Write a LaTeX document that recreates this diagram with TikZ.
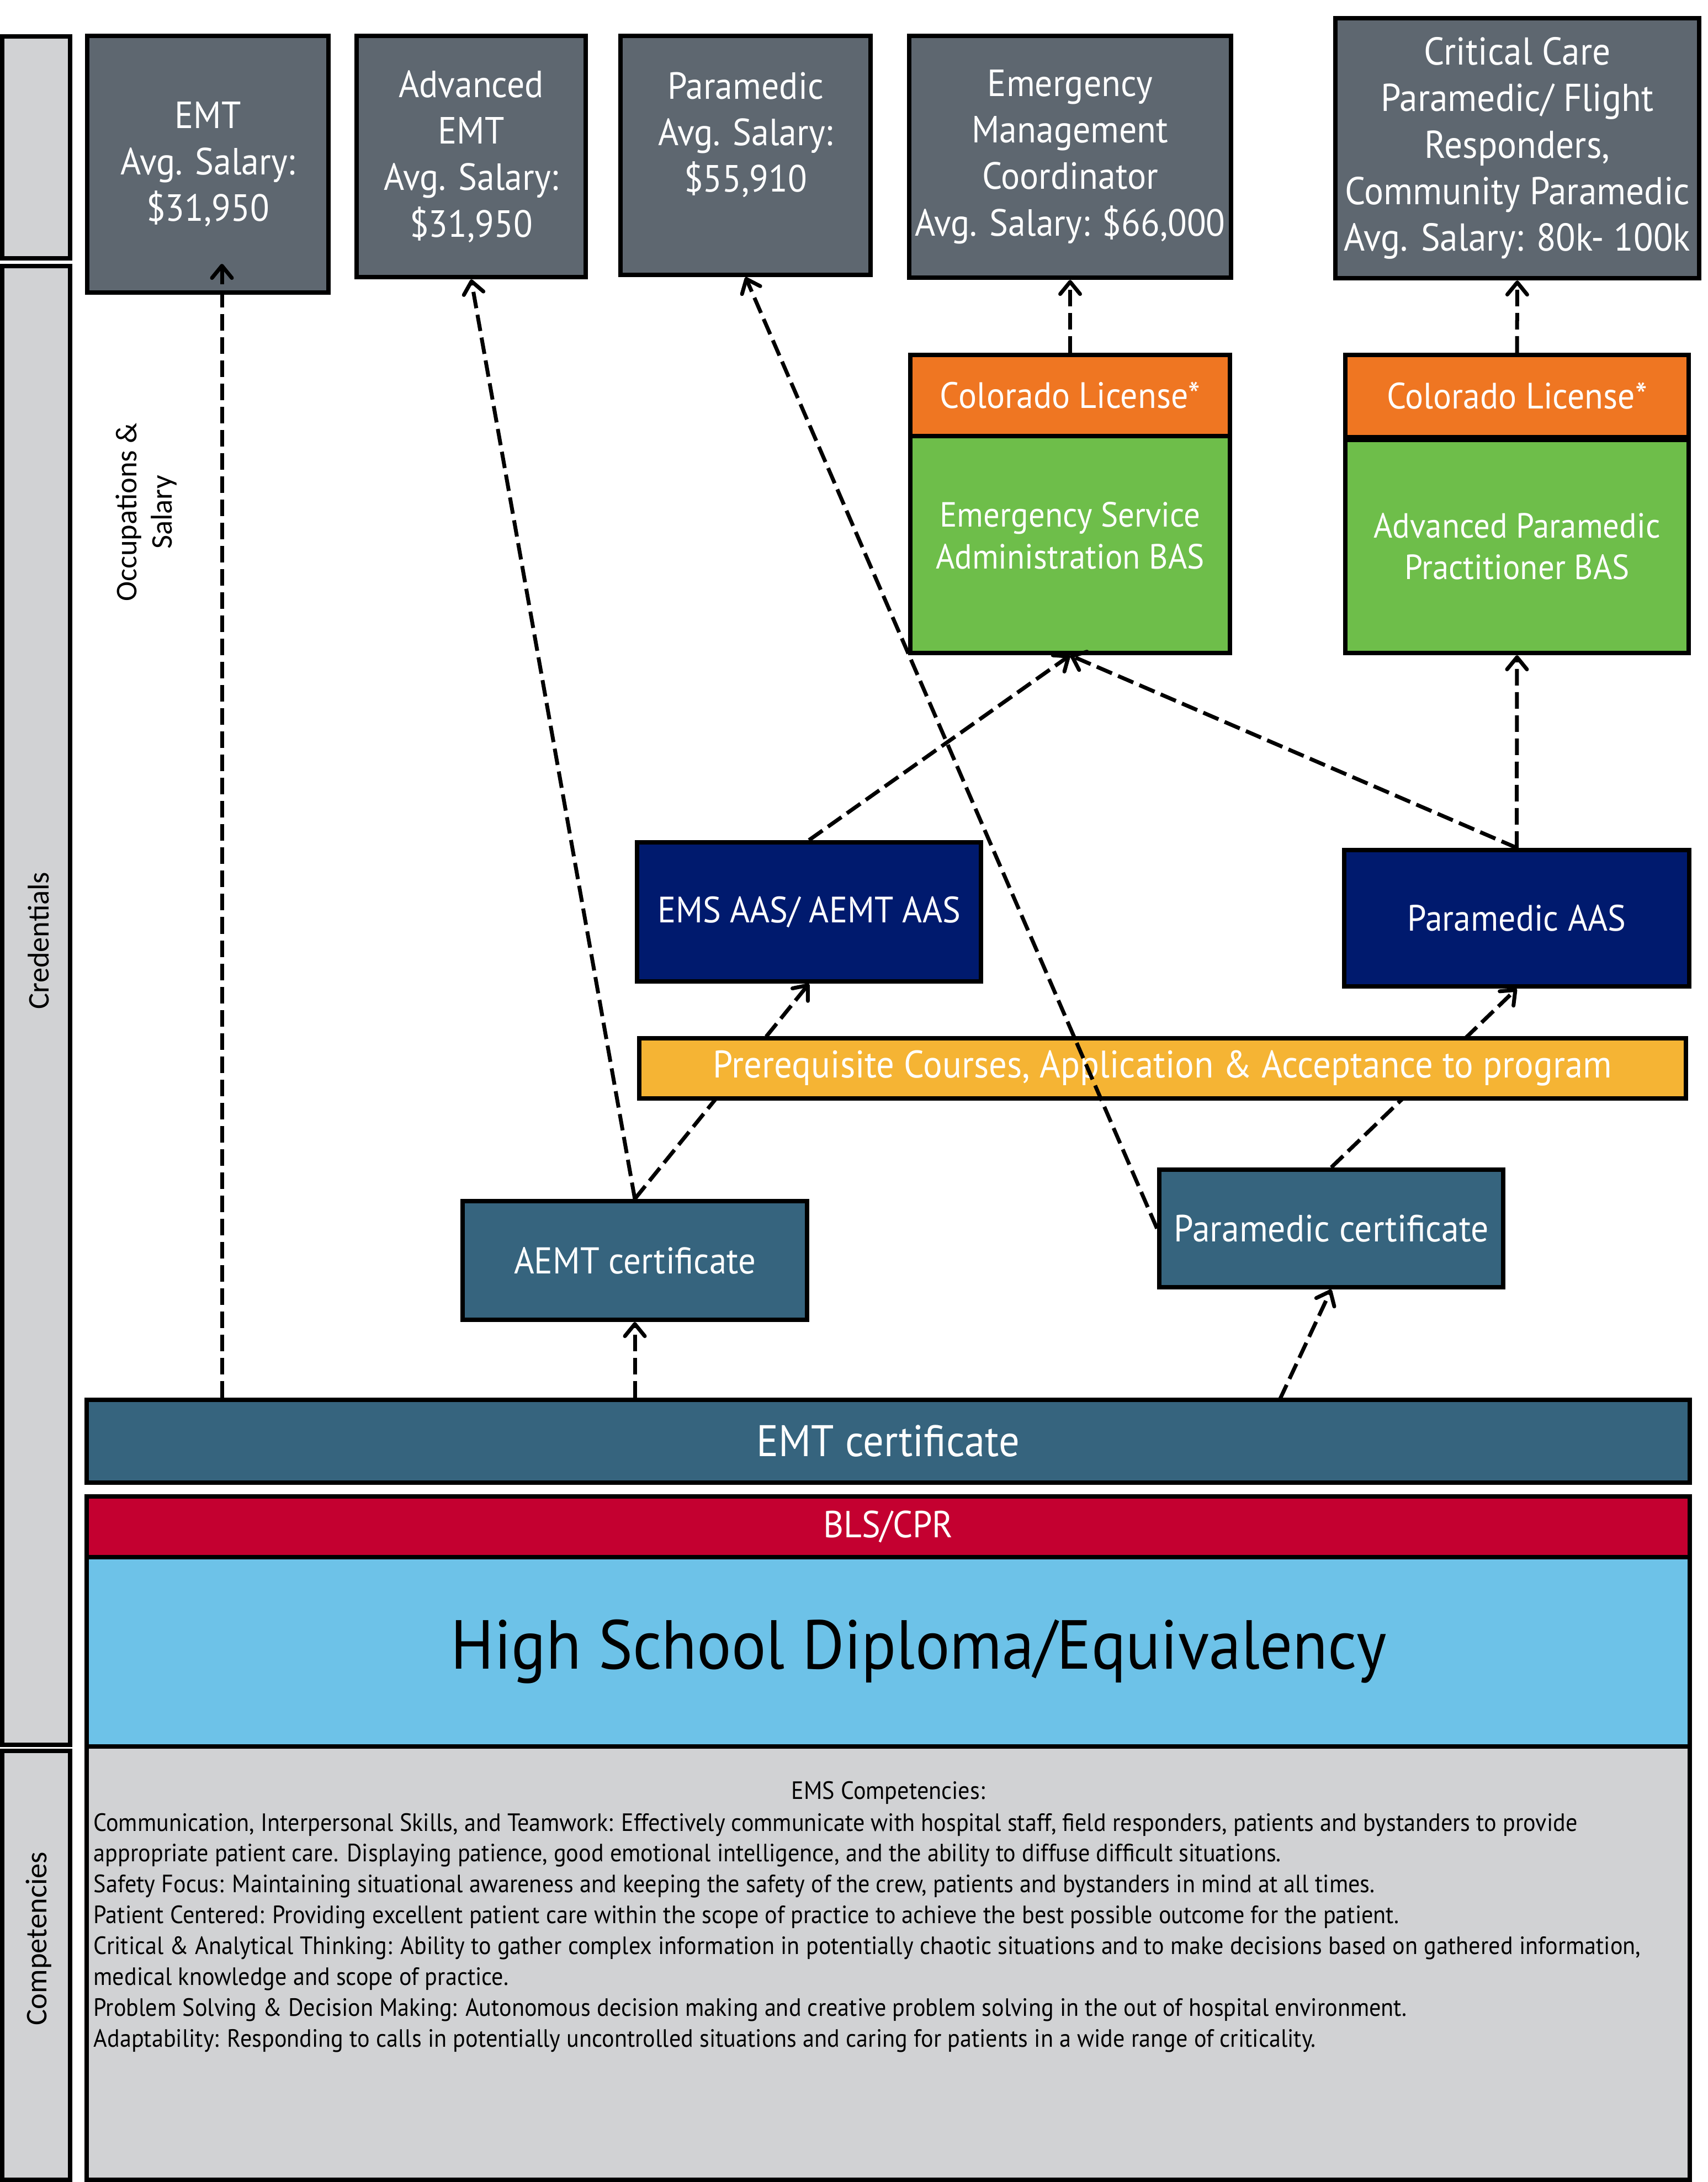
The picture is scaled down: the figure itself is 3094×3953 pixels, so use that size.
\documentclass[tikz,border=0pt]{standalone}
\usepackage{fontspec}
\setmainfont{PT Sans}[FakeStretch=0.93]
\newfontfamily\sidefont{Carlito}
\usetikzlibrary{arrows.meta,calc}

\definecolor{jobgray}{RGB}{94,103,112}
\definecolor{sidegray}{RGB}{209,210,212}
\definecolor{licorange}{RGB}{239,118,34}
\definecolor{basgreen}{RGB}{110,190,74}
\definecolor{aasnavy}{RGB}{0,26,110}
\definecolor{prereqyellow}{RGB}{245,180,52}
\definecolor{certteal}{RGB}{54,100,126}
\definecolor{blsred}{RGB}{196,0,48}
\definecolor{hsblue}{RGB}{109,194,232}

\begin{document}
\begin{tikzpicture}[x=0.01cm, y=-0.01cm,
    box/.style={draw=black, line width=0.08cm, inner sep=0pt, align=center, text=white},
    side/.style={box, fill=sidegray},
    sidelabel/.style={rotate=90, align=center, font=\sidefont\fontsize{15.5}{18}\selectfont},
    job/.style={box, fill=jobgray, font=\fontsize{19.5}{24}\selectfont},
    mid/.style={font=\fontsize{18.9}{21.5}\selectfont},
    flow/.style={line width=0.07cm, dash pattern=on 0.3cm off 0.12cm,
        -{Straight Barb[length=2.2mm, width=3.6mm, round]}}]

\useasboundingbox (0,0) rectangle (3094,3953);

% Side column
\node[side, minimum width=1.23cm, minimum height=4.02cm] (sidetop) at (65.5,267) {};
\node[side, minimum width=1.23cm, minimum height=26.77cm] (sidecred) at (65.5,1821.5) {};
\node[side, minimum width=1.23cm, minimum height=7.77cm] (sidecomp) at (65.5,3560.5) {};
\node[sidelabel] (credlabel) at (70,1704) {Credentials};
\node[sidelabel] (complabel) at (70,3512) {Competencies};
\node[sidelabel] (occlabel) at (265,928) {Occupations \&\\Salary};

% Occupations
\node[job, minimum width=4.37cm, minimum height=4.65cm] (emt) at (376.5,297.5) {EMT\\Avg. Salary:\\\$31,950};
\node[job, minimum width=4.15cm, minimum height=4.37cm] (aemtjob) at (853.5,283.5) {Advanced\\EMT\\Avg. Salary:\\\$31,950};
\node[job, minimum width=4.53cm, minimum height=4.33cm] (medic) at (1350.5,281.5) {Paramedic\\Avg. Salary:\\\$55,910\\\mbox{}};
\node[job, minimum width=5.83cm, minimum height=4.38cm] (emc) at (1938.5,284) {Emergency\\Management\\Coordinator\\Avg. Salary: \$66,000};
\node[job, font=\fontsize{20}{24}\selectfont, minimum width=6.59cm, minimum height=4.71cm] (critcare) at (2748.5,268.5) {Critical Care\\Paramedic/ Flight\\Responders,\\Community Paramedic\\Avg. Salary: 80k- 100k};

% Bachelor degrees
\node[box, mid, fill=licorange, minimum width=5.79cm, minimum height=1.47cm] (lic1) at (1938.5,716.5) {Colorado License*};
\node[box, fill=basgreen, font=\fontsize{18}{21.5}\selectfont, minimum width=5.79cm, minimum height=3.93cm] (esa) at (1938.5,986.5) {Emergency Service\\Administration BAS\\[-12pt]\mbox{}};
\node[box, mid, fill=licorange, minimum width=6.22cm, minimum height=1.49cm] (lic2) at (2748,717.5) {Colorado License*};
\node[box, fill=basgreen, font=\fontsize{18}{21.5}\selectfont, minimum width=6.22cm, minimum height=3.86cm] (apbas) at (2748,990) {Advanced Paramedic\\Practitioner BAS};

% Associate degrees and certificates
\node[box, mid, fill=aasnavy, minimum width=6.23cm, minimum height=2.52cm] (emsaas) at (1465.5,1652) {EMS AAS/ AEMT AAS};
\node[box, mid, fill=aasnavy, minimum width=6.25cm, minimum height=2.47cm] (medaas) at (2747.5,1663.5) {Paramedic AAS};
\node[box, fill=certteal, font=\fontsize{19.2}{23}\selectfont, minimum width=6.24cm, minimum height=2.15cm] (aemtcert) at (1150,2283.5) {AEMT certificate};
\node[box, fill=certteal, font=\fontsize{19.5}{23}\selectfont, minimum width=6.23cm, minimum height=2.13cm] (medcert) at (2411.5,2225.5) {Paramedic certificate};

% Base layers
\node[box, fill=certteal, minimum width=29.02cm, minimum height=1.50cm, font=\fontsize{22.8}{27}\selectfont] (emtcert) at (1609,2611) {EMT certificate};
\node[box, fill=blsred, minimum width=29.02cm, minimum height=1.10cm, font=\fontsize{19.4}{23}\selectfont] (bls) at (1609,2766) {BLS/CPR};
\node[box, fill=hsblue, text=black, minimum width=29.02cm, minimum height=3.43cm, font=\fontsize{35.7}{43}\selectfont] (hs) at (1609,2992.5) {\hspace*{1.1cm}High School Diploma/Equivalency};
\node[box, fill=sidegray, minimum width=29.02cm, minimum height=7.85cm] (compbox) at (1609,3556.5) {};

% Paths hidden behind the prerequisite bar
\draw[flow] (aemtcert.north) -- (emsaas.south);
\draw[flow] (medcert.north) -- (medaas.south);

\node[box, fill=prereqyellow, font=\fontsize{19.8}{23}\selectfont, minimum width=18.94cm, minimum height=1.09cm] (prereq) at (2106,1935.5) {Prerequisite Courses, Application \& Acceptance to program};

% Career paths
\coordinate (emtend) at (402,478);
\coordinate (medstart) at (2318,2536);
\draw[flow] (emtcert.north -| emtend) -- (emtend);
\draw[flow] (emtcert.north -| aemtcert.south) -- (aemtcert.south);
\draw[flow] (medstart) -- (medcert.south);
\draw[flow] (aemtcert.north) -- (aemtjob.south);
\draw[flow] (medcert.west) -- (medic.south);
\draw[flow] (emsaas.north) -- (esa.south);
\draw[flow] (medaas.north) -- (esa.south);
\draw[flow] (medaas.north) -- (apbas.south);
\draw[flow] (lic1.north) -- (emc.south);
\draw[flow] (lic2.north) -- (critcare.south);

% Competencies
\node[font=\fontsize{12.9}{15.9}\selectfont] (comphead) at (1609,3248) {EMS Competencies:};
\node[anchor=north west, inner sep=0pt, align=left, font=\fontsize{12.9}{15.9}\selectfont] (complist) at (169,3284) {Communication, Interpersonal Skills, and Teamwork: Effectively communicate with hospital staff, field responders, patients and bystanders to provide\\
appropriate patient care. Displaying patience, good emotional intelligence, and the ability to diffuse difficult situations.\\
Safety Focus: Maintaining situational awareness and keeping the safety of the crew, patients and bystanders in mind at all times.\\
Patient Centered: Providing excellent patient care within the scope of practice to achieve the best possible outcome for the patient.\\
Critical \& Analytical Thinking: Ability to gather complex information in potentially chaotic situations and to make decisions based on gathered information,\\
medical knowledge and scope of practice.\\
Problem Solving \& Decision Making: Autonomous decision making and creative problem solving in the out of hospital environment.\\
Adaptability: Responding to calls in potentially uncontrolled situations and caring for patients in a wide range of criticality.};
\end{tikzpicture}
\end{document}
